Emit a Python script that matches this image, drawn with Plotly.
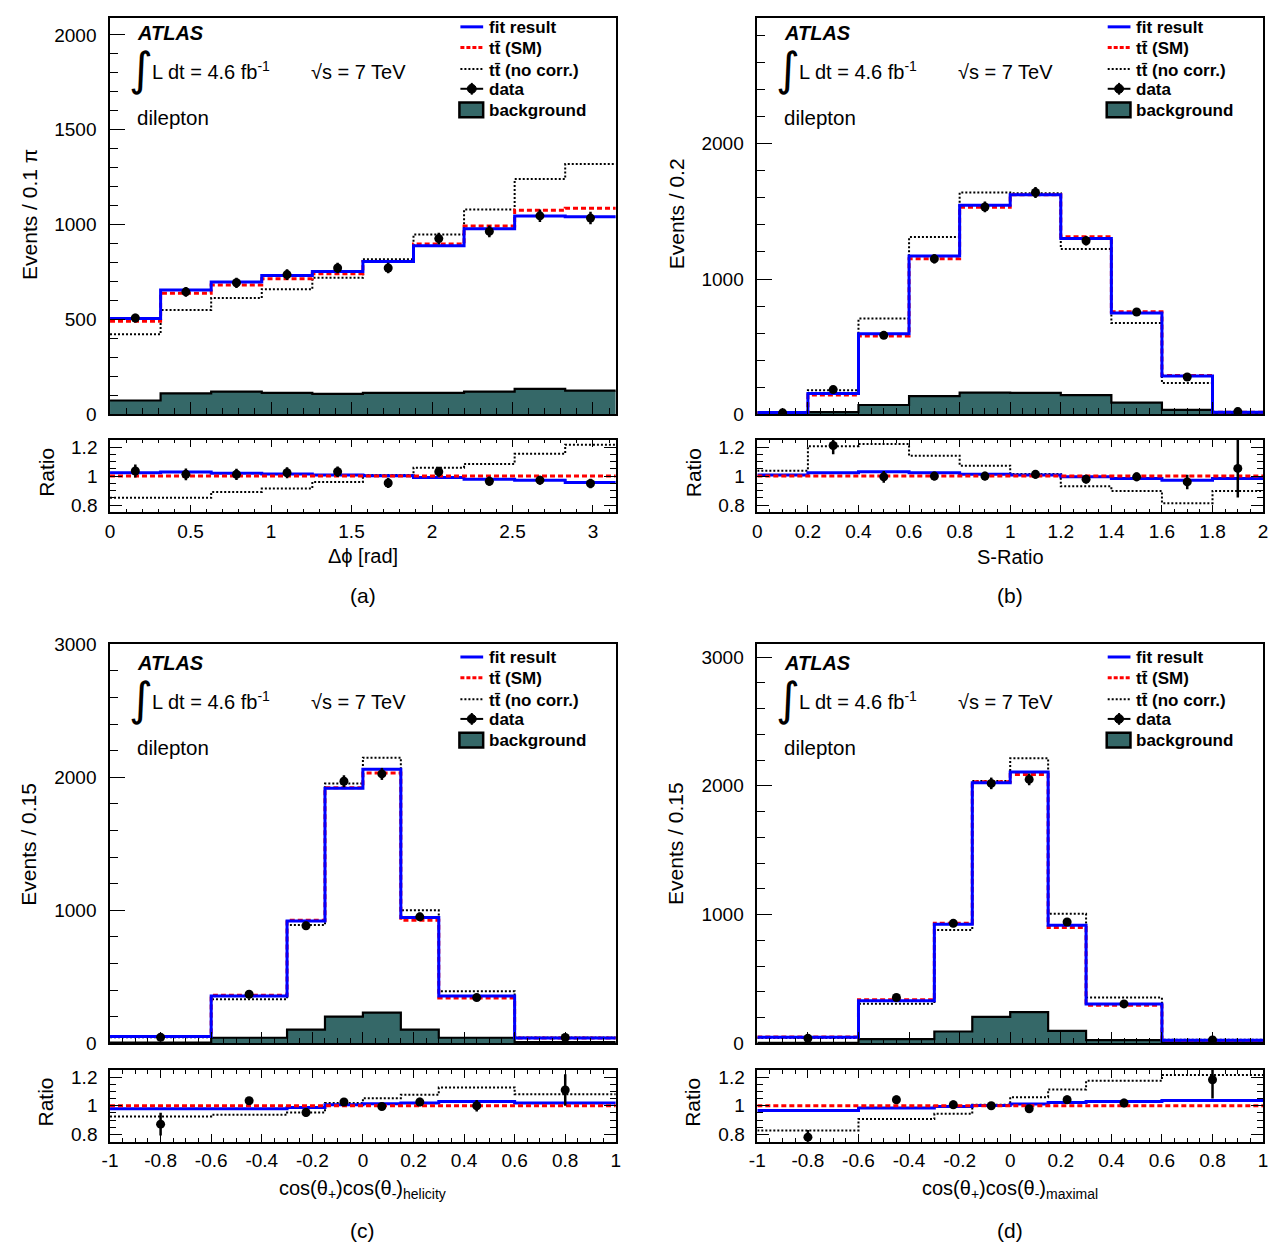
import plotly.graph_objects as go

# page is 1285x1256; the browser body keeps its default 8px margin,
# so the figure itself is 16px smaller and sits at (8, 8)
PAGE_W, PAGE_H = 1285, 1256
OFF = 8
W, H = PAGE_W - 2 * OFF, PAGE_H - 2 * OFF
FONT = "Liberation Sans, Arial, Helvetica, sans-serif"
BLUE, RED, BLACK, BKG = "#0000ff", "#ff0000", "#000000", "#356868"

# ---------------- panel (a): delta phi ----------------
a_edges = [0, 0.3142, 0.6283, 0.9425, 1.2566, 1.5708, 1.8850, 2.1991, 2.5133, 2.8274, 3.1416]
a_fit = [505, 655, 697, 731, 753, 805, 888, 978, 1045, 1041]
a_sm = [490, 638, 681, 714, 741, 805, 898, 993, 1076, 1086]
a_nocorr = [421, 550, 612, 659, 719, 817, 947, 1079, 1240, 1319]
a_data = [507, 645, 693, 736, 771, 771, 926, 964, 1046, 1034]
a_data_err = [23, 26, 27, 28, 28, 28, 31, 31, 33, 33]
a_bkg = [72, 110, 119, 112, 107, 112, 112, 119, 133, 124]
a_r_fit = [1.023, 1.028, 1.019, 1.014, 1.007, 1.002, 0.990, 0.979, 0.972, 0.956]
a_r_nocorr = [0.851, 0.851, 0.891, 0.914, 0.960, 1.007, 1.058, 1.084, 1.153, 1.216]
a_r_data = [1.035, 1.012, 1.012, 1.023, 1.030, 0.953, 1.030, 0.965, 0.972, 0.949]
a_r_err = [0.045, 0.040, 0.038, 0.037, 0.036, 0.035, 0.034, 0.032, 0.031, 0.032]
a_xtickvals = [0, 0.5, 1, 1.5, 2, 2.5, 3]
a_xticktext = ["0", "0.5", "1", "1.5", "2", "2.5", "3"]

# ---------------- panel (b): S-Ratio ----------------
b_edges = [0, 0.2, 0.4, 0.6, 0.8, 1.0, 1.2, 1.4, 1.6, 1.8, 2.0]
b_fit = [12, 153, 595, 1171, 1545, 1623, 1300, 748, 282, 14]
b_sm = [12, 141, 578, 1149, 1531, 1623, 1312, 758, 287, 14]
b_nocorr = [12.5, 177, 707, 1310, 1640, 1635, 1222, 675, 231, 12.5]
b_data = [10, 182, 583, 1149, 1533, 1640, 1283, 756, 275, 19]
b_data_err = [4, 14, 25, 34, 40, 41, 36, 28, 17, 5]
b_bkg = [3, 15, 68, 134, 160, 158, 141, 85, 32, 7]
b_r_fit = [1.007, 1.023, 1.030, 1.023, 1.012, 1.007, 0.995, 0.984, 0.972, 0.984]
b_r_nocorr = [1.037, 1.205, 1.221, 1.140, 1.072, 1.014, 0.930, 0.898, 0.814, 0.898]
b_r_data = [None, 1.21, 0.995, 1.0, 1.0, 1.012, 0.979, 0.995, 0.96, 1.053]
b_r_err = [0, 0.06, 0.04, 0.03, 0.03, 0.03, 0.03, 0.03, 0.05, 0.2]
b_xtickvals = [0, 0.2, 0.4, 0.6, 0.8, 1, 1.2, 1.4, 1.6, 1.8, 2]
b_xticktext = ["0", "0.2", "0.4", "0.6", "0.8", "1", "1.2", "1.4", "1.6", "1.8", "2"]

# ---------------- panel (c): helicity ----------------
c_edges = [-1, -0.6, -0.3, -0.15, 0, 0.15, 0.3, 0.6, 1]
c_fit = [51, 356, 919, 1917, 2061, 946, 356, 41]
c_sm = [52, 361, 926, 1921, 2032, 926, 341, 40]
c_nocorr = [46, 332, 889, 1953, 2147, 1000, 391, 43]
c_data = [45, 369, 884, 1970, 2025, 951, 344, 44]
c_data_err = [7, 19, 30, 45, 45, 31, 19, 6]
c_bkg = [6, 42, 103, 201, 231, 103, 42, 10]
c_r_fit = [0.979, 0.979, 0.988, 1.007, 1.014, 1.019, 1.030, 1.019]
c_r_nocorr = [0.926, 0.937, 0.953, 1.019, 1.053, 1.077, 1.128, 1.081]
c_r_data = [0.872, 1.035, 0.953, 1.026, 0.995, 1.026, 1.0, 1.11]
c_r_err = [0.08, 0.025, 0.03, 0.02, 0.02, 0.03, 0.04, 0.11]

# ---------------- panel (d): maximal ----------------
d_edges = [-1, -0.6, -0.3, -0.15, 0, 0.15, 0.3, 0.6, 1]
d_fit = [48, 331, 924, 2024, 2108, 917, 306, 23]
d_sm = [50, 339, 932, 2032, 2088, 899, 295, 22]
d_nocorr = [41, 308, 881, 2037, 2215, 1006, 356, 27]
d_data = [39, 356, 932, 2019, 2050, 942, 306, 26]
d_data_err = [7, 19, 30, 45, 45, 31, 18, 6]
d_bkg = [4, 33, 92, 206, 242, 97, 25, 8]
d_r_fit = [0.967, 0.984, 0.995, 1.002, 1.012, 1.023, 1.030, 1.037]
d_r_nocorr = [0.828, 0.907, 0.944, 1.007, 1.060, 1.114, 1.174, 1.214]
d_r_data = [0.781, 1.042, 1.007, 1.0, 0.979, 1.042, 1.019, 1.181]
d_r_err = [0.05, 0.03, 0.03, 0.02, 0.02, 0.03, 0.03, 0.13]

cd_xtickvals = [-1, -0.8, -0.6, -0.4, -0.2, 0, 0.2, 0.4, 0.6, 0.8, 1]
cd_xticktext = ["-1", "-0.8", "-0.6", "-0.4", "-0.2", "0", "0.2", "0.4", "0.6", "0.8", "1"]

ratio_tickvals = [0.8, 1.0, 1.2]
ratio_ticktext = ["0.8", "1", "1.2"]

panels = [
    dict(edges=a_edges, fit=a_fit, sm=a_sm, nocorr=a_nocorr, data=a_data, err=a_data_err, bkg=a_bkg,
         rfit=a_r_fit, rnocorr=a_r_nocorr, rdata=a_r_data, rerr=a_r_err,
         xt=a_xtickvals, xtt=a_xticktext, xminor=0.1,
         ymax=2110, ydt=500, yminor=100,
         ytitle="Events / 0.1 π", xtitle="Δϕ [rad]", label="(a)",
         x0=103, x1=614, y0=4, y1=411, ry0=437, ry1=511, xt_dy=44, lab_dy=84),
    dict(edges=b_edges, fit=b_fit, sm=b_sm, nocorr=b_nocorr, data=b_data, err=b_data_err, bkg=b_bkg,
         rfit=b_r_fit, rnocorr=b_r_nocorr, rdata=b_r_data, rerr=b_r_err,
         xt=b_xtickvals, xtt=b_xticktext, xminor=0.05,
         ymax=2960, ydt=1000, yminor=200,
         ytitle="Events / 0.2", xtitle="S-Ratio", label="(b)",
         x0=757, x1=1268, y0=4, y1=411, ry0=437, ry1=511, xt_dy=45, lab_dy=84),
    dict(edges=c_edges, fit=c_fit, sm=c_sm, nocorr=c_nocorr, data=c_data, err=c_data_err, bkg=c_bkg,
         rfit=c_r_fit, rnocorr=c_r_nocorr, rdata=c_r_data, rerr=c_r_err,
         xt=cd_xtickvals, xtt=cd_xticktext, xminor=0.05,
         ymax=3000, ydt=1000, yminor=200,
         ytitle="Events / 0.15", xtitle="cos(θ<sub>+</sub>)cos(θ<sub>-</sub>)<sub>helicity</sub>", label="(c)",
         x0=103, x1=614, y0=645, y1=1051, ry0=1078, ry1=1151, xt_dy=49, lab_dy=90),
    dict(edges=d_edges, fit=d_fit, sm=d_sm, nocorr=d_nocorr, data=d_data, err=d_data_err, bkg=d_bkg,
         rfit=d_r_fit, rnocorr=d_r_nocorr, rdata=d_r_data, rerr=d_r_err,
         xt=cd_xtickvals, xtt=cd_xticktext, xminor=0.05,
         ymax=3100, ydt=1000, yminor=200,
         ytitle="Events / 0.15", xtitle="cos(θ<sub>+</sub>)cos(θ<sub>-</sub>)<sub>maximal</sub>", label="(d)",
         x0=757, x1=1268, y0=645, y1=1051, ry0=1078, ry1=1151, xt_dy=49, lab_dy=90),
]


def PX(x):
    return min(max((x - OFF) / W, 0.0), 1.0)


def PY(y):
    return min(max(1 - (y - OFF) / H, 0.0), 1.0)


def step(vals):
    return list(vals) + [vals[-1]]


fig = go.Figure()
shapes = []
annotations = []
layout_axes = {}


def ann(text, x, y, size, xanchor="left", yanchor="middle", angle=0, family=FONT):
    annotations.append(dict(text=text, x=PX(x), y=PY(y), xref="paper", yref="paper",
                            xanchor=xanchor, yanchor=yanchor, showarrow=False, textangle=angle,
                            font=dict(family=family, size=size, color=BLACK)))


for i, p in enumerate(panels):
    mi = 2 * i + 1
    ri = 2 * i + 2
    mx, my = ("x" if mi == 1 else f"x{mi}"), ("y" if mi == 1 else f"y{mi}")
    rx, ry = f"x{ri}", f"y{ri}"
    edges = p["edges"]
    centers = [(edges[k] + edges[k + 1]) / 2 for k in range(len(edges) - 1)]

    # ---- main panel traces ----
    fig.add_trace(go.Scatter(x=edges, y=step(p["bkg"]), mode="lines", line_shape="hv",
                             fill="tozeroy", fillcolor=BKG, line=dict(color=BLACK, width=2.2),
                             xaxis=mx, yaxis=my, showlegend=False, hoverinfo="skip"))
    fig.add_trace(go.Scatter(x=edges, y=step(p["nocorr"]), mode="lines", line_shape="hv",
                             line=dict(color=BLACK, width=2, dash="2px,2px"),
                             xaxis=mx, yaxis=my, showlegend=False))
    fig.add_trace(go.Scatter(x=edges, y=step(p["sm"]), mode="lines", line_shape="hv",
                             line=dict(color=RED, width=3, dash="5px,3px"),
                             xaxis=mx, yaxis=my, showlegend=False))
    fig.add_trace(go.Scatter(x=edges, y=step(p["fit"]), mode="lines", line_shape="hv",
                             line=dict(color=BLUE, width=3),
                             xaxis=mx, yaxis=my, showlegend=False))
    fig.add_trace(go.Scatter(x=centers, y=p["data"], mode="markers",
                             marker=dict(color=BLACK, size=9),
                             error_y=dict(type="data", array=p["err"], color=BLACK, thickness=2.5, width=0),
                             xaxis=mx, yaxis=my, showlegend=False))

    # ---- ratio panel traces ----
    rsm = [s / s for s in p["sm"]]
    fig.add_trace(go.Scatter(x=edges, y=step(p["rnocorr"]), mode="lines", line_shape="hv",
                             line=dict(color=BLACK, width=2, dash="2px,2px"),
                             xaxis=rx, yaxis=ry, showlegend=False))
    fig.add_trace(go.Scatter(x=edges, y=step(p["rfit"]), mode="lines", line_shape="hv",
                             line=dict(color=BLUE, width=3),
                             xaxis=rx, yaxis=ry, showlegend=False))
    fig.add_trace(go.Scatter(x=edges, y=step(rsm), mode="lines", line_shape="hv",
                             line=dict(color=RED, width=3, dash="5px,3px"),
                             xaxis=rx, yaxis=ry, showlegend=False))
    fig.add_trace(go.Scatter(x=centers, y=p["rdata"], mode="markers",
                             marker=dict(color=BLACK, size=9),
                             error_y=dict(type="data", array=p["rerr"], color=BLACK, thickness=2.5, width=0),
                             xaxis=rx, yaxis=ry, showlegend=False))

    # frame top cannot sit above the page margin: clip it and shrink the range to keep the scale
    ftop = max(p["y0"], OFF)
    ymax = p["ymax"] * (p["y1"] - ftop) / (p["y1"] - p["y0"])

    xdom = [PX(p["x0"]), PX(p["x1"])]
    mdom = [PY(p["y1"]), PY(ftop)]
    rdom = [PY(p["ry1"]), PY(p["ry0"])]
    xr = [edges[0], edges[-1]]
    common = dict(showline=True, linecolor=BLACK, linewidth=1.5, showgrid=False, zeroline=False,
                  tickcolor=BLACK, tickwidth=1.2, tickfont=dict(family=FONT, size=19, color=BLACK))

    key = lambda s, n: s + ("" if n == 1 else str(n))
    layout_axes[key("xaxis", mi)] = dict(common, domain=xdom, range=xr, anchor=my, mirror=True,
                                         ticks="inside", ticklen=12, tickmode="array", tickvals=p["xt"],
                                         showticklabels=False,
                                         minor=dict(ticks="inside", ticklen=6, dtick=p["xminor"], tick0=0,
                                                    tickcolor=BLACK, tickwidth=1))
    layout_axes[key("yaxis", mi)] = dict(common, domain=mdom, range=[0, ymax], anchor=mx, mirror=True,
                                         ticks="inside", ticklen=15, tickmode="linear", tick0=0, dtick=p["ydt"],
                                         ticklabelstandoff=8,
                                         minor=dict(ticks="inside", ticklen=8, dtick=p["yminor"], tick0=0,
                                                    tickcolor=BLACK, tickwidth=1))
    layout_axes[key("xaxis", ri)] = dict(common, domain=xdom, range=xr, anchor=ry, mirror="ticks",
                                         ticks="inside", ticklen=8, tickmode="array", tickvals=p["xt"],
                                         ticktext=p["xtt"], ticklabelstandoff=1,
                                         minor=dict(ticks="inside", ticklen=4, dtick=p["xminor"], tick0=0,
                                                    tickcolor=BLACK, tickwidth=1))
    layout_axes[key("yaxis", ri)] = dict(common, domain=rdom, range=[0.75, 1.25], anchor=rx, mirror="ticks",
                                         ticks="inside", ticklen=12, tickmode="array", tickvals=ratio_tickvals,
                                         ticktext=ratio_ticktext, ticklabelstandoff=7,
                                         minor=dict(ticks="inside", ticklen=6, dtick=0.05, tick0=0.75,
                                                    tickcolor=BLACK, tickwidth=1))

    x0, y0 = p["x0"], p["y0"]
    # ---- texts ----
    ann("<b><i>ATLAS</i></b>", x0 + 25, y0 + 19, 20)
    ann("∫", x0 + 17, y0 + 56, 46, family="DejaVu Sans")
    ann("L dt = 4.6 fb<sup>-1</sup>", x0 + 40, y0 + 57, 20)
    ann("√s = 7 TeV", x0 + 201, y0 + 59, 20)
    ann("dilepton", x0 + 25, y0 + 105, 20.5)
    ann(p["ytitle"], x0 - 82, (p["y0"] + p["y1"]) / 2, 21, xanchor="center", angle=-90)
    ann("Ratio", x0 - 65, (p["ry0"] + p["ry1"]) / 2 - 4, 21, xanchor="center", angle=-90)
    ann(p["xtitle"], (p["x0"] + p["x1"]) / 2, p["ry1"] + p["xt_dy"], 20, xanchor="center")
    ann(p["label"], (p["x0"] + p["x1"]) / 2, p["ry1"] + p["lab_dy"], 21, xanchor="center")

    # ---- manual legend ----
    lx0, lx1, tx = x0 + 354, x0 + 377, x0 + 381
    rows = [13, 34, 56, 76, 97]
    shapes.append(dict(type="line", xref="paper", yref="paper", x0=PX(lx0), x1=PX(lx1),
                       y0=PY(y0 + rows[0]), y1=PY(y0 + rows[0]), line=dict(color=BLUE, width=3)))
    shapes.append(dict(type="line", xref="paper", yref="paper", x0=PX(lx0), x1=PX(lx1),
                       y0=PY(y0 + rows[1]), y1=PY(y0 + rows[1]), line=dict(color=RED, width=3, dash="4px,2px")))
    shapes.append(dict(type="line", xref="paper", yref="paper", x0=PX(lx0), x1=PX(lx1),
                       y0=PY(y0 + rows[2]), y1=PY(y0 + rows[2]), line=dict(color=BLACK, width=2, dash="2px,2px")))
    shapes.append(dict(type="line", xref="paper", yref="paper", x0=PX(lx0), x1=PX(lx1),
                       y0=PY(y0 + rows[3]), y1=PY(y0 + rows[3]), line=dict(color=BLACK, width=2)))
    cx = (lx0 + lx1) / 2
    shapes.append(dict(type="line", xref="paper", yref="paper", x0=PX(cx), x1=PX(cx),
                       y0=PY(y0 + rows[3] - 6), y1=PY(y0 + rows[3] + 6), line=dict(color=BLACK, width=2)))
    shapes.append(dict(type="circle", xref="paper", yref="paper", x0=PX(cx - 4.5), x1=PX(cx + 4.5),
                       y0=PY(y0 + rows[3] - 4.5), y1=PY(y0 + rows[3] + 4.5),
                       fillcolor=BLACK, line=dict(color=BLACK, width=1)))
    shapes.append(dict(type="rect", xref="paper", yref="paper", x0=PX(lx0 - 1), x1=PX(lx1),
                       y0=PY(y0 + 90), y1=PY(y0 + 105), fillcolor=BKG, line=dict(color=BLACK, width=2.5)))
    for txt, r in zip(["fit result", "tt̄ (SM)", "tt̄ (no corr.)", "data", "background"], rows):
        annotations.append(dict(text=f"<b>{txt}</b>", x=PX(tx), y=PY(y0 + r + 1), xref="paper", yref="paper",
                                xanchor="left", yanchor="middle", showarrow=False,
                                font=dict(family=FONT, size=17, color=BLACK)))

fig.update_layout(
    width=W, height=H, margin=dict(l=0, r=0, t=0, b=0),
    paper_bgcolor="white", plot_bgcolor="white",
    showlegend=False, font=dict(family=FONT, color=BLACK),
    shapes=shapes, annotations=annotations,
    **layout_axes,
)

fig.write_html("out.html", config={"displayModeBar": False})
